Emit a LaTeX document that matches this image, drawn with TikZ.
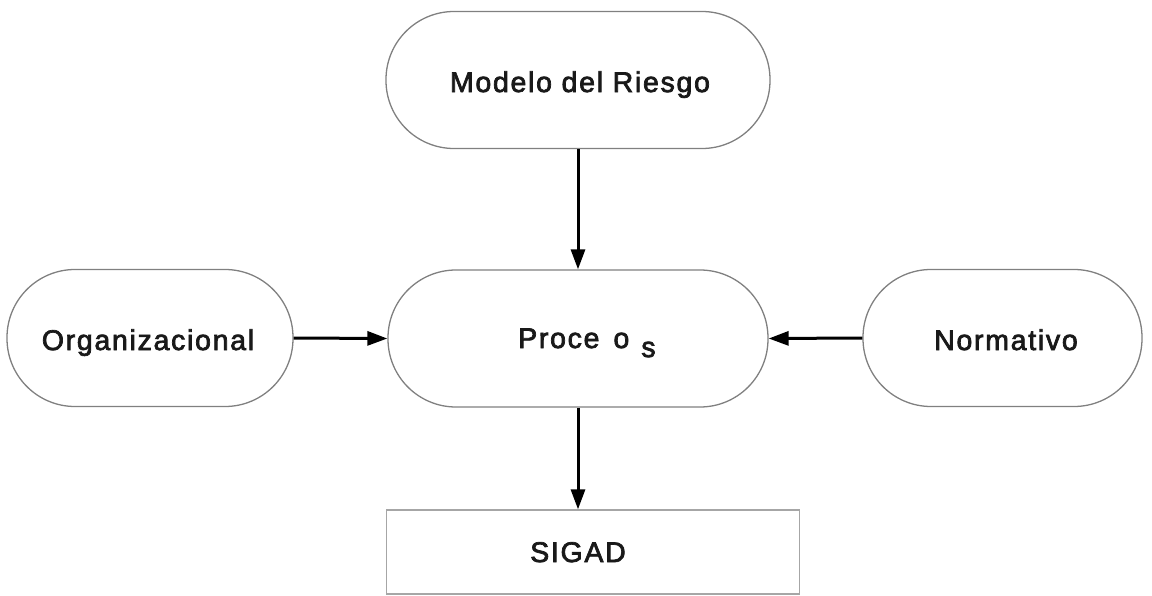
\documentclass[tikz,border=0pt]{standalone}
\usepackage{fontspec}
\setmainfont{Liberation Sans}[LetterSpace=6,FakeBold=2.5]
\usetikzlibrary{arrows.meta}
\begin{document}
\begin{tikzpicture}[x=1pt,y=-1pt,
  stadium/.style={draw=black!50,line width=1.3pt,rectangle,rounded corners=68pt,minimum height=137pt,inner sep=0pt},
  boxnode/.style={draw=black!35,line width=1.3pt,rectangle,inner sep=0pt},
  lbl/.style={font=\fontsize{28.5}{32}\selectfont,text=black!90},
  conn/.style={line width=3pt,-{Triangle[length=20pt,width=14pt]}}]
\useasboundingbox (0,0) rectangle (1152,595);
\node[stadium,minimum width=384pt] (mod) at (578,80) {};
\node[stadium,minimum width=380pt] (pro) at (578,338.5) {};
\node[stadium,minimum width=286pt] (org) at (150,338) {};
\node[stadium,minimum width=279pt] (nor) at (1002.5,338) {};
\node[boxnode,minimum width=413pt,minimum height=84pt] (sig) at (593,552) {};
\node[lbl,anchor=base] (tmod) at (580,92) {Modelo del Riesgo};
\node[lbl,anchor=base] (torg) at (148,350) {Organizacional};
\node[lbl,anchor=base] (tnor) at (1006,350) {Normativo};
\node[lbl,anchor=base] (tsig) at (578,562) {SIGAD};
\node[lbl,anchor=base west,inner sep=0pt] (tpro) at (518,348) {Proce\hspace{14pt}o\hspace{12pt}\raisebox{-9pt}{s}};
\draw[conn] (mod.south) -- (pro.north);
\draw[conn] (pro.south) -- (sig.north -| pro.south);
\draw[conn] (org.east) -- (pro.west);
\draw[conn] (nor.west) -- (pro.east);
\end{tikzpicture}
\end{document}
